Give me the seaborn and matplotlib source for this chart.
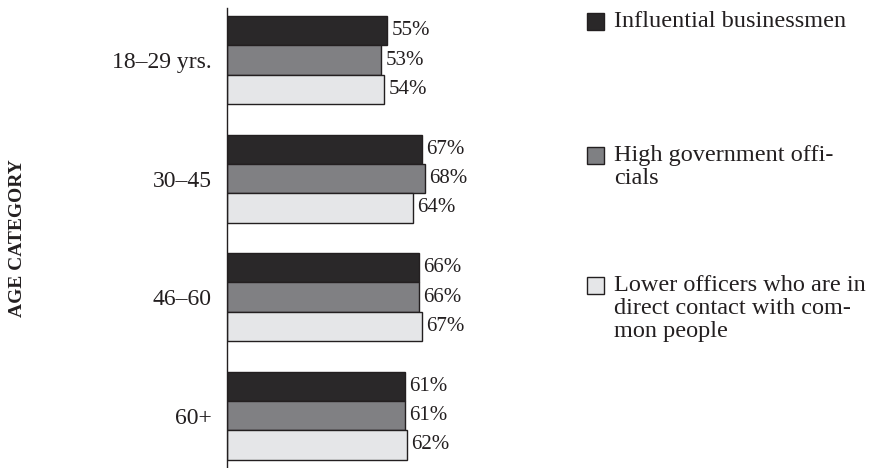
import matplotlib
matplotlib.use("Agg")
import matplotlib.pyplot as plt
from matplotlib.patches import Rectangle
import pandas as pd
import seaborn as sns

# Survey shares by age group
age_groups = ["18–29 yrs.", "30–45", "46–60", "60+"]
series = [
    "Influential businessmen",
    "High government officials",
    "Lower officers who are in direct contact with common people",
]
legend_labels = [
    "Influential businessmen",
    "High government offi-\ncials",
    "Lower officers who are in\ndirect contact with com-\nmon people",
]
businessmen = [55, 67, 66, 61]
high_officials = [53, 68, 66, 61]
lower_officers = [54, 64, 67, 62]
colors = ["#2a2829", "#7f8083", "#e5e6e8"]

df = pd.DataFrame({
    "age": age_groups * 3,
    "group": [series[0]] * 4 + [series[1]] * 4 + [series[2]] * 4,
    "share": businessmen + high_officials + lower_officers,
})

sns.set_theme(style="white")
plt.rcParams["font.family"] = ["Liberation Serif", "DejaVu Serif"]
text_color = "#231f20"

fig = plt.figure(figsize=(8.78, 4.68), dpi=100)
ax = fig.add_axes([227 / 878, 0.0, 291 / 878, 1 - 8 / 468])

sns.barplot(
    data=df, x="share", y="age", hue="group", order=age_groups,
    hue_order=series, palette=colors, orient="h", width=0.743,
    edgecolor="#231f20", linewidth=1.0, legend=False, ax=ax,
)

for cont in ax.containers:
    ax.bar_label(cont, fmt="%d%%", padding=3, fontsize=15, color=text_color)

ax.set_xlim(0, 100)
ax.set_ylim(3.443, -0.44)
ax.set_xlabel("")
ax.set_ylabel("")
ax.set_xticks([])
for side in ["top", "right", "bottom"]:
    ax.spines[side].set_visible(False)
ax.spines["left"].set_color(text_color)
ax.spines["left"].set_linewidth(1.0)
ax.tick_params(axis="y", length=0, pad=11, labelsize=17, labelcolor=text_color)

fig.text(18 / 878, 1 - 238 / 468, "AGE CATEGORY", rotation=90,
         ha="center", va="center", fontsize=14, fontweight="bold",
         color=text_color)

# Legend: square swatch beside a wrapped label, one block per series
swatch_tops = [13, 147, 277]
text_tops = [11, 145, 275]
sq = 17
for color, label, s_top, t_top in zip(colors, legend_labels, swatch_tops, text_tops):
    fig.patches.append(Rectangle(
        (587 / 878, 1 - (s_top + sq) / 468), sq / 878, sq / 468,
        transform=fig.transFigure, facecolor=color,
        edgecolor="#231f20", linewidth=1.0))
    fig.text(614 / 878, 1 - t_top / 468, label, ha="left", va="top",
             fontsize=17.5, color=text_color, linespacing=1.12)

fig.savefig("out.png", dpi=100)
